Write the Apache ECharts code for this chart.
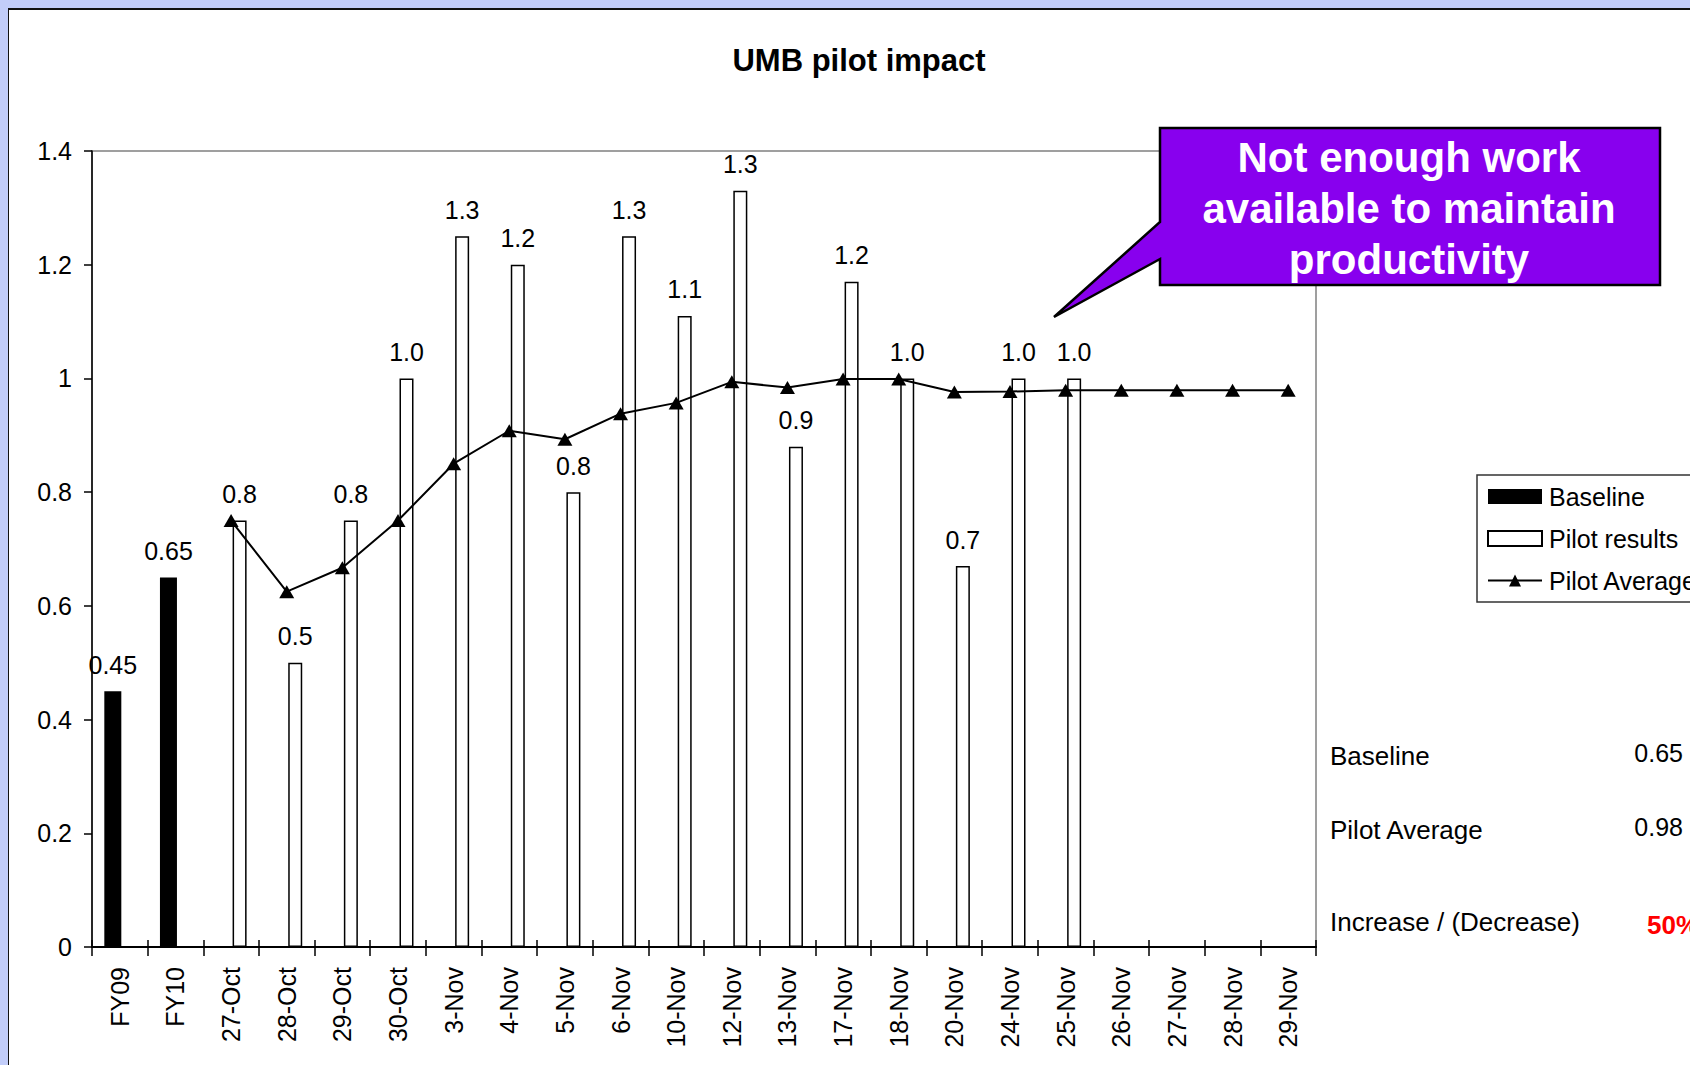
<!DOCTYPE html>
<html>
<head>
<meta charset="utf-8">
<title>UMB pilot impact</title>
<script src="https://cdn.jsdelivr.net/npm/echarts@6/dist/echarts.min.js"></script>
<style>
  html, body { margin: 0; padding: 0; width: 1690px; height: 1065px; overflow: hidden; background: #c2cdf9; }
  #frame { position: absolute; left: 8px; top: 8px; width: 1682px; height: 1057px; background: #ffffff;
           border-top: 2px solid #111; border-left: 1.5px solid #111; box-sizing: border-box; }
  #chart { position: absolute; left: 0; top: 0; width: 1690px; height: 1065px; }
</style>
</head>
<body>
<div id="frame"></div>
<div id="chart"></div>
<script>
// Categories: two fiscal-year baselines followed by the pilot days
const categories = ['FY09', 'FY10', '27-Oct', '28-Oct', '29-Oct', '30-Oct', '3-Nov', '4-Nov', '5-Nov', '6-Nov',
  '10-Nov', '12-Nov', '13-Nov', '17-Nov', '18-Nov', '20-Nov', '24-Nov', '25-Nov', '26-Nov', '27-Nov', '28-Nov', '29-Nov'];

// Productivity values
const baseline = [0.45, 0.65, null, null, null, null, null, null, null, null, null,
  null, null, null, null, null, null, null, null, null, null, null];
const pilotResults = [null, null, 0.75, 0.5, 0.75, 1.0, 1.25, 1.2, 0.8, 1.25, 1.11,
  1.33, 0.88, 1.17, 1.0, 0.67, 1.0, 1.0, null, null, null, null];
const pilotAverage = [null, null, 0.75, 0.625, 0.667, 0.75, 0.85, 0.908, 0.893, 0.938, 0.957,
  0.994, 0.984, 0.999, 0.999, 0.976, 0.977, 0.979, 0.979, 0.979, 0.979, 0.979];

// Y axis scale
const yMin = 0;
const yMax = 1.4;
const yStep = 0.2;

// Summary block on the right
const statLabels = ['Baseline', 'Pilot Average', 'Increase / (Decrease)'];
const statValues = ['0.65', '0.98', '50%'];

// Callout text
const calloutLines = ['Not enough work', 'available to maintain', 'productivity'];

const FONT = '"Liberation Sans", Arial, sans-serif';

const chart = echarts.init(document.getElementById('chart'), null, { renderer: 'svg' });

const statY = [756, 830, 922];
const statGraphics = [];
statLabels.forEach(function (t, i) {
  statGraphics.push({
    type: 'text', x: 1330, y: statY[i],
    style: { text: t, fontSize: 26, fontFamily: FONT, fill: '#000', align: 'left', verticalAlign: 'middle' }
  });
});
statValues.forEach(function (t, i) {
  const last = i === statValues.length - 1;
  statGraphics.push({
    type: 'text', x: last ? 1647 : 1683, y: statY[i] - (last ? -3 : 3),
    style: {
      text: t, fontSize: last ? 26 : 25, fontFamily: FONT, fontWeight: last ? 'bold' : 'normal',
      fill: last ? '#ff0000' : '#000', align: last ? 'left' : 'right', verticalAlign: 'middle'
    }
  });
});

const calloutGraphics = [{
  type: 'polygon', z: 100,
  shape: { points: [[1160, 128], [1660, 128], [1660, 285], [1160, 285], [1160, 259], [1054, 317], [1160, 222]] },
  style: { fill: '#8800ee', stroke: '#000', lineWidth: 2.5, lineJoin: 'miter' }
}];
calloutLines.forEach(function (t, i) {
  calloutGraphics.push({
    type: 'text', z: 101, x: 1409, y: 157 + i * 51,
    style: { text: t, fontSize: 42, fontWeight: 'bold', fontFamily: FONT, fill: '#ffffff', align: 'center', verticalAlign: 'middle' }
  });
});

const option = {
  backgroundColor: 'transparent',
  animation: false,
  textStyle: { fontFamily: FONT },
  grid: {
    left: 92, right: 374, top: 151, bottom: 118,
    show: true, borderColor: '#808080', borderWidth: 1.5, backgroundColor: 'transparent'
  },
  legend: {
    orient: 'vertical', left: 1477, top: 475,
    padding: [9, 20, 9, 10], itemGap: 17, itemWidth: 54, itemHeight: 15,
    backgroundColor: '#ffffff', borderColor: '#333', borderWidth: 1.5,
    textStyle: { fontSize: 25, color: '#000', fontFamily: FONT, padding: [0, 0, 0, 2] },
    data: [
      { name: 'Baseline', icon: 'rect' },
      { name: 'Pilot results', icon: 'rect' },
      { name: 'Pilot Average' }
    ]
  },
  xAxis: [{
    type: 'category', data: categories,
    axisLine: { lineStyle: { color: '#000', width: 2 } },
    axisTick: { show: true, interval: 0, length: 9, lineStyle: { color: '#000', width: 1.5 } },
    axisLabel: { interval: 0, rotate: 90, fontSize: 25, color: '#000', margin: 20, fontFamily: FONT },
    splitLine: { show: false }
  }, {
    type: 'category', data: categories, position: 'bottom',
    axisLine: { show: false },
    axisTick: { show: true, inside: true, interval: 0, length: 7, lineStyle: { color: '#000', width: 1.5 } },
    axisLabel: { show: false },
    splitLine: { show: false }
  }],
  yAxis: {
    type: 'value', min: yMin, max: yMax, interval: yStep,
    axisLine: { show: true, lineStyle: { color: '#000', width: 1.5 } },
    axisTick: { show: true, length: 8, lineStyle: { color: '#000', width: 1.5 } },
    axisLabel: { fontSize: 25, color: '#000', margin: 20, fontFamily: FONT },
    splitLine: { show: false }
  },
  series: [{
    name: 'Baseline', type: 'bar', data: baseline,
    barWidth: 17, barGap: '0%',
    itemStyle: { color: '#000' },
    label: {
      show: true, position: 'top', distance: 14, fontSize: 25, color: '#000', fontFamily: FONT,
      formatter: function (p) { return String(p.value); }
    }
  }, {
    name: 'Pilot results', type: 'bar', data: pilotResults,
    barWidth: 14, barGap: '0%',
    itemStyle: { color: '#ffffff', borderColor: '#000', borderWidth: 1.5 },
    label: {
      show: true, position: 'top', distance: 14, fontSize: 25, color: '#000', fontFamily: FONT,
      formatter: function (p) { return Number(p.value).toFixed(1); }
    }
  }, {
    name: 'Pilot Average', type: 'line', data: pilotAverage, z: 5,
    showAllSymbol: true, symbol: 'triangle', symbolSize: [15, 13],
    lineStyle: { color: '#000', width: 2 },
    itemStyle: { color: '#000' }
  }],
  graphic: [{
    type: 'text', x: 859, y: 60,
    style: { text: 'UMB pilot impact', fontSize: 31, fontWeight: 'bold', fontFamily: FONT, fill: '#000', align: 'center', verticalAlign: 'middle' }
  }].concat(statGraphics, calloutGraphics)
};

chart.setOption(option);
</script>
</body>
</html>
